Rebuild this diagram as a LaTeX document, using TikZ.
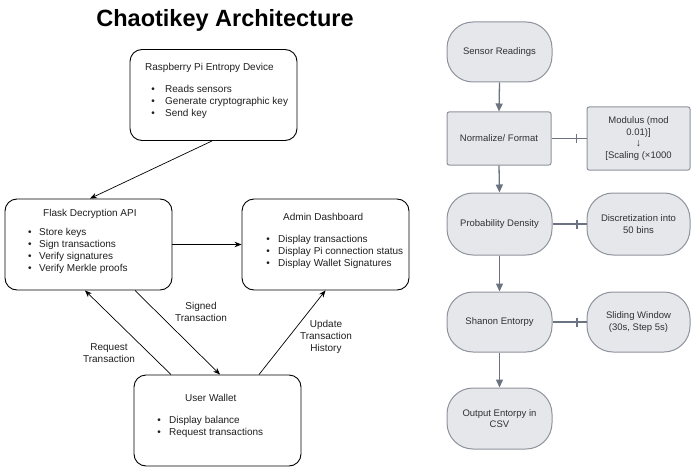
\documentclass[tikz,border=0pt]{standalone}
\usepackage{fontspec}
\setmainfont{Liberation Sans}
\usetikzlibrary{arrows.meta}
\definecolor{txt}{HTML}{1E1E1E}
\definecolor{fl}{HTML}{E5E7EB}
\definecolor{bd}{HTML}{8E939C}
\definecolor{ar}{HTML}{6B7280}
\definecolor{ft}{HTML}{2F3135}
\begin{document}
\begin{tikzpicture}[x=1pt,y=-1pt,
  archbox/.style={draw=black, line width=0.9pt, rounded corners=12pt, inner sep=0pt, minimum width=167pt, minimum height=91pt},
  lt/.style={inner sep=0pt, anchor=base west, text=txt, font=\fontsize{10}{12}\selectfont},
  bul/.style={inner sep=0pt, anchor=base, text=txt, font=\fontsize{10}{12}\selectfont},
  lbl/.style={inner sep=0pt, align=center, text=txt, font=\fontsize{10}{12}\selectfont},
  larrow/.style={draw=black, line width=0.7pt, -{Stealth[length=7pt,width=5.5pt]}},
  flowbox/.style={draw=bd, fill=fl, line width=1pt, inner sep=0pt, align=center, text=ft, font=\fontsize{9.5}{11.5}\selectfont},
  stad/.style={flowbox, rounded corners=26pt, minimum width=105pt, minimum height=60pt},
  rbox/.style={flowbox, rounded corners=2pt},
  farrow/.style={draw=ar, line width=1.3pt, -{Triangle[length=8pt,width=7pt]}},
  fline/.style={draw=ar, line width=1.1pt}
]
\useasboundingbox (0,0) rectangle (698,468);

% Title
\node[inner sep=0pt, anchor=base, font=\fontsize{23.5}{28}\selectfont\bfseries] (title) at (225,27) {Chaotikey Architecture};

% Left boxes
\node[archbox] (rasp) at (213.5,95) {};
\node[archbox] (flask) at (88.5,244.5) {};
\node[archbox] (admin) at (325.5,244.5) {};
\node[archbox] (wallet) at (217.5,420.5) {};

% Raspberry text
\node[lt] (raspt) at (145,70.5) {Raspberry Pi Entropy Device};
\node[bul] (rb1) at (153,92.5) {•};
\node[lt] (rt1) at (165,92.5) {Reads sensors};
\node[bul] (rb2) at (153,104.5) {•};
\node[lt] (rt2) at (165,104.5) {Generate cryptographic key};
\node[bul] (rb3) at (153,116.5) {•};
\node[lt] (rt3) at (165,116.5) {Send key};

% Flask text
\node[lt] (flaskt) at (43,216.5) {Flask Decryption API};
\node[bul] (fb1) at (30,235.5) {•};
\node[lt] (ft1) at (39,235.5) {Store keys};
\node[bul] (fb2) at (30,247.5) {•};
\node[lt] (ft2) at (39,247.5) {Sign transactions};
\node[bul] (fb3) at (30,259.5) {•};
\node[lt] (ft3) at (39,259.5) {Verify signatures};
\node[bul] (fb4) at (30,271.5) {•};
\node[lt] (ft4) at (39,271.5) {Verify Merkle proofs};

% Admin text
\node[lt] (admint) at (283,220.5) {Admin Dashboard};
\node[bul] (ab1) at (268,242.5) {•};
\node[lt] (at1) at (278,242.5) {Display transactions};
\node[bul] (ab2) at (268,254.5) {•};
\node[lt] (at2) at (278,254.5) {Display Pi connection status};
\node[bul] (ab3) at (268,266.5) {•};
\node[lt] (at3) at (278,266.5) {Display Wallet Signatures};

% Wallet text
\node[lt] (wallett) at (185,401.5) {User Wallet};
\node[bul] (wb1) at (159,423.5) {•};
\node[lt] (wt1) at (169,423.5) {Display balance};
\node[bul] (wb2) at (159,435.5) {•};
\node[lt] (wt2) at (169,435.5) {Request transactions};

% Left connectors
\draw[larrow] ([xshift=-1.5pt]rasp.south) -- ([xshift=1.5pt]flask.north);
\draw[larrow] (flask.east) -- (admin.west);
\draw[larrow] ([xshift=-46.5pt]wallet.north) -- ([xshift=-3.5pt]flask.south);
\draw[larrow] ([xshift=46.5pt]flask.south) -- ([xshift=2.5pt]wallet.north);
\draw[larrow] ([xshift=41.5pt]wallet.north) -- (admin.south);

% Labels
\node[lbl] (lreq) at (109,353.5) {Request\\Transaction};
\node[lbl] (lsig) at (201,311.5) {Signed\\Transaction};
\node[lbl] (lupd) at (326,337) {Update\\Transaction\\History};

% Right flowchart
\node[stad] (sensor) at (499.5,52) {Sensor Readings};
\node[rbox, minimum width=104pt, minimum height=53pt] (norm) at (499,138.5) {Normalize/ Format};
\node[rbox, minimum width=103pt, minimum height=63pt] (mod) at (638.5,138.5) {Modulus (mod\\0.01)]\\[0pt]{\fontsize{10.5}{11}\selectfont ↓}\\[0pt][Scaling (×1000};
\node[stad, minimum height=62pt] (prob) at (499.5,224) {Probability Density};
\node[stad, minimum width=103pt, minimum height=62pt] (disc) at (638.5,224) {Discretization into\\50 bins};
\node[stad] (shan) at (499.5,322) {Shanon Entorpy};
\node[stad, minimum width=103pt] (slide) at (638.5,322) {Sliding Window\\(30s, Step 5s)};
\node[stad, minimum height=61pt] (out) at (499.5,418.5) {Output Entorpy in\\CSV};

\draw[farrow] (sensor.south) -- (norm.north);
\draw[farrow] (norm.south) -- (prob.north);
\draw[farrow] (prob.south) -- (shan.north);
\draw[farrow] (shan.south) -- (out.north);

\draw[fline] (norm.east) -- (mod.west) coordinate[pos=0.72] (t1);
\draw[fline] ([yshift=-4.5pt]t1) -- ([yshift=4.5pt]t1);
\draw[fline] (prob.east) -- (disc.west) coordinate[pos=0.72] (t2);
\draw[fline] ([yshift=-4.5pt]t2) -- ([yshift=4.5pt]t2);
\draw[fline] (shan.east) -- (slide.west) coordinate[pos=0.72] (t3);
\draw[fline] ([yshift=-4.5pt]t3) -- ([yshift=4.5pt]t3);
\end{tikzpicture}
\end{document}
